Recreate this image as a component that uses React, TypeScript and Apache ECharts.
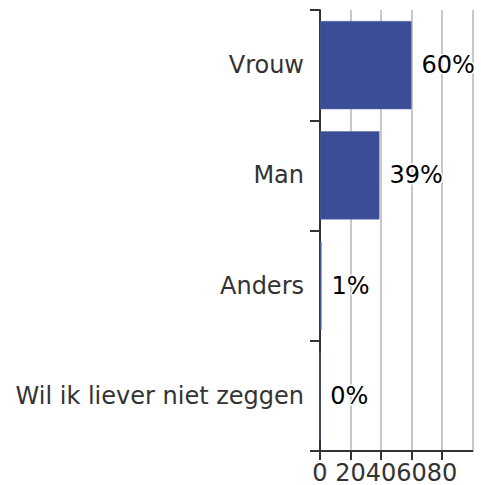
import React, { useEffect, useRef } from "react";
import * as echarts from "echarts";

const categories = ["Vrouw", "Man", "Anders", "Wil ik liever niet zeggen"];
const values = [60, 39, 1, 0];
const xTicks = [0, 20, 40, 60, 80];

export default function App() {
  const ref = useRef<HTMLDivElement>(null);
  useEffect(() => {
    if (!ref.current) return;
    const chart = echarts.init(ref.current, undefined, { renderer: "svg" });
    const font = "DejaVu Sans";
    chart.setOption({
      animation: false,
      backgroundColor: "#ffffff",
      grid: { left: 320, right: 8.5, top: 10, bottom: 33, containLabel: false },
      xAxis: [
        {
          type: "value",
          min: 0,
          max: 100,
          interval: 20,
          z: 3,
          axisLine: { show: true, lineStyle: { color: "#333333", width: 2 } },
          axisTick: {
            show: true,
            length: 9,
            customValues: xTicks,
            lineStyle: { color: "#333333", width: 2 },
          },
          axisLabel: {
            customValues: xTicks,
            fontFamily: font,
            fontSize: 24,
            lineHeight: 20,
            color: "#333333",
            margin: 12,
          },
          splitLine: { show: false },
        },
        {
          type: "value",
          min: 0,
          max: 100,
          interval: 20,
          position: "bottom",
          axisLine: { show: false },
          axisTick: { show: false },
          axisLabel: { show: false },
          splitLine: { show: true, lineStyle: { color: "#c8c8c8", width: 2 } },
        },
      ],
      yAxis: {
        type: "category",
        data: categories,
        inverse: true,
        axisLine: { show: true, lineStyle: { color: "#333333", width: 2 } },
        axisTick: { show: true, length: 10, lineStyle: { color: "#333333", width: 2 } },
        axisLabel: {
          fontFamily: font,
          fontSize: 24,
          color: "#333333",
          margin: 16,
        },
        splitLine: { show: false },
      },
      series: [
        {
          type: "bar",
          xAxisIndex: 0,
          data: values,
          barCategoryGap: "20%",
          itemStyle: { color: "#3a4d96", borderColor: "#5a6aa8", borderWidth: 0.5 },
          label: {
            show: true,
            position: "right",
            distance: 10,
            formatter: "{c}%",
            fontFamily: font,
            fontSize: 24,
            color: "#000000",
            textBorderColor: "#ffffff",
            textBorderWidth: 3,
          },
        },
      ],
    });
    return () => chart.dispose();
  }, []);
  return <div ref={ref} style={{ width: 481, height: 485, position: "absolute", left: 0, top: 0 }} />;
}
